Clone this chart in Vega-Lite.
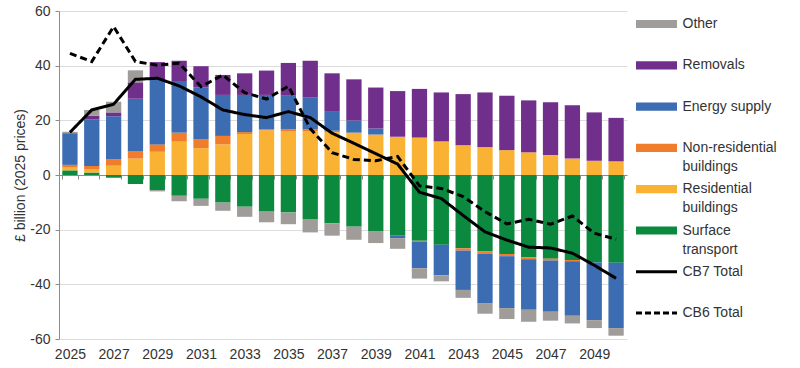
{
  "$schema": "https://vega.github.io/schema/vega-lite/v6.json",
  "width": 568,
  "height": 328,
  "autosize": {"type": "none"},
  "padding": {"left": 59, "top": 11, "right": 173, "bottom": 29},
  "background": "white",
  "config": {"view": {"stroke": null}, "font": "Liberation Sans"},
  "datasets": {
    "seriesInfo": [
      {"series": "Surface transport", "stackOrder": 1},
      {"series": "Residential buildings", "stackOrder": 2},
      {"series": "Non-residential buildings", "stackOrder": 3},
      {"series": "Energy supply", "stackOrder": 4},
      {"series": "Removals", "stackOrder": 5},
      {"series": "Other", "stackOrder": 6}
    ],
    "main": [
    {"year": 2025, "series": "Surface transport", "value": 1.7},
    {"year": 2026, "series": "Surface transport", "value": 0.9},
    {"year": 2027, "series": "Surface transport", "value": -1.0},
    {"year": 2028, "series": "Surface transport", "value": -3.3},
    {"year": 2029, "series": "Surface transport", "value": -5.5},
    {"year": 2030, "series": "Surface transport", "value": -7.6},
    {"year": 2031, "series": "Surface transport", "value": -8.7},
    {"year": 2032, "series": "Surface transport", "value": -10.1},
    {"year": 2033, "series": "Surface transport", "value": -11.6},
    {"year": 2034, "series": "Surface transport", "value": -13.4},
    {"year": 2035, "series": "Surface transport", "value": -13.7},
    {"year": 2036, "series": "Surface transport", "value": -16.1},
    {"year": 2037, "series": "Surface transport", "value": -17.7},
    {"year": 2038, "series": "Surface transport", "value": -18.9},
    {"year": 2039, "series": "Surface transport", "value": -20.5},
    {"year": 2040, "series": "Surface transport", "value": -22.1},
    {"year": 2041, "series": "Surface transport", "value": -24.1},
    {"year": 2042, "series": "Surface transport", "value": -25.5},
    {"year": 2043, "series": "Surface transport", "value": -26.8},
    {"year": 2044, "series": "Surface transport", "value": -28.0},
    {"year": 2045, "series": "Surface transport", "value": -28.9},
    {"year": 2046, "series": "Surface transport", "value": -30.1},
    {"year": 2047, "series": "Surface transport", "value": -30.6},
    {"year": 2048, "series": "Surface transport", "value": -31.1},
    {"year": 2049, "series": "Surface transport", "value": -32.0},
    {"year": 2050, "series": "Surface transport", "value": -32.1},

    {"year": 2025, "series": "Residential buildings", "value": 1.0},
    {"year": 2026, "series": "Residential buildings", "value": 1.3},
    {"year": 2027, "series": "Residential buildings", "value": 3.4},
    {"year": 2028, "series": "Residential buildings", "value": 6.0},
    {"year": 2029, "series": "Residential buildings", "value": 8.5},
    {"year": 2030, "series": "Residential buildings", "value": 12.2},
    {"year": 2031, "series": "Residential buildings", "value": 9.8},
    {"year": 2032, "series": "Residential buildings", "value": 11.2},
    {"year": 2033, "series": "Residential buildings", "value": 15.0},
    {"year": 2034, "series": "Residential buildings", "value": 16.3},
    {"year": 2035, "series": "Residential buildings", "value": 16.1},
    {"year": 2036, "series": "Residential buildings", "value": 16.1},
    {"year": 2037, "series": "Residential buildings", "value": 15.7},
    {"year": 2038, "series": "Residential buildings", "value": 15.5},
    {"year": 2039, "series": "Residential buildings", "value": 14.8},
    {"year": 2040, "series": "Residential buildings", "value": 14.0},
    {"year": 2041, "series": "Residential buildings", "value": 13.7},
    {"year": 2042, "series": "Residential buildings", "value": 12.3},
    {"year": 2043, "series": "Residential buildings", "value": 10.9},
    {"year": 2044, "series": "Residential buildings", "value": 10.2},
    {"year": 2045, "series": "Residential buildings", "value": 9.1},
    {"year": 2046, "series": "Residential buildings", "value": 8.3},
    {"year": 2047, "series": "Residential buildings", "value": 7.3},
    {"year": 2048, "series": "Residential buildings", "value": 6.0},
    {"year": 2049, "series": "Residential buildings", "value": 5.2},
    {"year": 2050, "series": "Residential buildings", "value": 5.0},

    {"year": 2025, "series": "Non-residential buildings", "value": 1.0},
    {"year": 2026, "series": "Non-residential buildings", "value": 1.1},
    {"year": 2027, "series": "Non-residential buildings", "value": 2.3},
    {"year": 2028, "series": "Non-residential buildings", "value": 2.6},
    {"year": 2029, "series": "Non-residential buildings", "value": 2.7},
    {"year": 2030, "series": "Non-residential buildings", "value": 3.3},
    {"year": 2031, "series": "Non-residential buildings", "value": 3.2},
    {"year": 2032, "series": "Non-residential buildings", "value": 3.1},
    {"year": 2033, "series": "Non-residential buildings", "value": 0.7},
    {"year": 2034, "series": "Non-residential buildings", "value": 0.5},
    {"year": 2035, "series": "Non-residential buildings", "value": 0.6},
    {"year": 2036, "series": "Non-residential buildings", "value": 0.7},
    {"year": 2037, "series": "Non-residential buildings", "value": 0.5},
    {"year": 2041, "series": "Non-residential buildings", "value": -0.2},
    {"year": 2043, "series": "Non-residential buildings", "value": -0.85},
    {"year": 2044, "series": "Non-residential buildings", "value": -0.85},
    {"year": 2045, "series": "Non-residential buildings", "value": -0.8},
    {"year": 2046, "series": "Non-residential buildings", "value": -0.7},
    {"year": 2047, "series": "Non-residential buildings", "value": -0.7},
    {"year": 2048, "series": "Non-residential buildings", "value": -0.5},

    {"year": 2025, "series": "Energy supply", "value": 11.6},
    {"year": 2026, "series": "Energy supply", "value": 17.1},
    {"year": 2027, "series": "Energy supply", "value": 15.8},
    {"year": 2028, "series": "Energy supply", "value": 19.3},
    {"year": 2029, "series": "Energy supply", "value": 23.9},
    {"year": 2030, "series": "Energy supply", "value": 18.9},
    {"year": 2031, "series": "Energy supply", "value": 19.1},
    {"year": 2032, "series": "Energy supply", "value": 15.0},
    {"year": 2033, "series": "Energy supply", "value": 13.6},
    {"year": 2034, "series": "Energy supply", "value": 12.5},
    {"year": 2035, "series": "Energy supply", "value": 12.3},
    {"year": 2036, "series": "Energy supply", "value": 11.5},
    {"year": 2037, "series": "Energy supply", "value": 7.2},
    {"year": 2038, "series": "Energy supply", "value": 4.4},
    {"year": 2039, "series": "Energy supply", "value": 2.2},
    {"year": 2040, "series": "Energy supply", "value": -1.0},
    {"year": 2041, "series": "Energy supply", "value": -9.8},
    {"year": 2042, "series": "Energy supply", "value": -11.2},
    {"year": 2043, "series": "Energy supply", "value": -14.4},
    {"year": 2044, "series": "Energy supply", "value": -18.0},
    {"year": 2045, "series": "Energy supply", "value": -19.0},
    {"year": 2046, "series": "Energy supply", "value": -18.5},
    {"year": 2047, "series": "Energy supply", "value": -18.7},
    {"year": 2048, "series": "Energy supply", "value": -19.9},
    {"year": 2049, "series": "Energy supply", "value": -21.1},
    {"year": 2050, "series": "Energy supply", "value": -23.9},

    {"year": 2026, "series": "Removals", "value": 1.3},
    {"year": 2027, "series": "Removals", "value": 1.4},
    {"year": 2028, "series": "Removals", "value": 6.0},
    {"year": 2029, "series": "Removals", "value": 6.2},
    {"year": 2030, "series": "Removals", "value": 7.4},
    {"year": 2031, "series": "Removals", "value": 7.7},
    {"year": 2032, "series": "Removals", "value": 7.3},
    {"year": 2033, "series": "Removals", "value": 7.9},
    {"year": 2034, "series": "Removals", "value": 8.9},
    {"year": 2035, "series": "Removals", "value": 12.0},
    {"year": 2036, "series": "Removals", "value": 13.5},
    {"year": 2037, "series": "Removals", "value": 13.8},
    {"year": 2038, "series": "Removals", "value": 15.1},
    {"year": 2039, "series": "Removals", "value": 15.0},
    {"year": 2040, "series": "Removals", "value": 16.7},
    {"year": 2041, "series": "Removals", "value": 17.8},
    {"year": 2042, "series": "Removals", "value": 17.9},
    {"year": 2043, "series": "Removals", "value": 18.7},
    {"year": 2044, "series": "Removals", "value": 20.0},
    {"year": 2045, "series": "Removals", "value": 19.9},
    {"year": 2046, "series": "Removals", "value": 19.0},
    {"year": 2047, "series": "Removals", "value": 19.3},
    {"year": 2048, "series": "Removals", "value": 19.5},
    {"year": 2049, "series": "Removals", "value": 17.7},
    {"year": 2050, "series": "Removals", "value": 15.9},

    {"year": 2025, "series": "Other", "value": 0.5},
    {"year": 2026, "series": "Other", "value": 2.1},
    {"year": 2027, "series": "Other", "value": 3.9},
    {"year": 2028, "series": "Other", "value": 4.4},
    {"year": 2029, "series": "Other", "value": -0.5},
    {"year": 2030, "series": "Other", "value": -2.0},
    {"year": 2031, "series": "Other", "value": -2.6},
    {"year": 2032, "series": "Other", "value": -3.0},
    {"year": 2033, "series": "Other", "value": -3.7},
    {"year": 2034, "series": "Other", "value": -3.9},
    {"year": 2035, "series": "Other", "value": -4.3},
    {"year": 2036, "series": "Other", "value": -4.9},
    {"year": 2037, "series": "Other", "value": -4.5},
    {"year": 2038, "series": "Other", "value": -4.8},
    {"year": 2039, "series": "Other", "value": -4.4},
    {"year": 2040, "series": "Other", "value": -3.9},
    {"year": 2041, "series": "Other", "value": -3.8},
    {"year": 2042, "series": "Other", "value": -2.2},
    {"year": 2043, "series": "Other", "value": -2.9},
    {"year": 2044, "series": "Other", "value": -3.9},
    {"year": 2045, "series": "Other", "value": -4.0},
    {"year": 2046, "series": "Other", "value": -4.4},
    {"year": 2047, "series": "Other", "value": -3.3},
    {"year": 2048, "series": "Other", "value": -2.8},
    {"year": 2049, "series": "Other", "value": -2.9},
    {"year": 2050, "series": "Other", "value": -2.8},

    {"year": 2025, "series": "CB7 Total", "value": 15.6},
    {"year": 2026, "series": "CB7 Total", "value": 23.8},
    {"year": 2027, "series": "CB7 Total", "value": 25.9},
    {"year": 2028, "series": "CB7 Total", "value": 35.0},
    {"year": 2029, "series": "CB7 Total", "value": 35.4},
    {"year": 2030, "series": "CB7 Total", "value": 32.6},
    {"year": 2031, "series": "CB7 Total", "value": 28.6},
    {"year": 2032, "series": "CB7 Total", "value": 23.8},
    {"year": 2033, "series": "CB7 Total", "value": 22.1},
    {"year": 2034, "series": "CB7 Total", "value": 21.0},
    {"year": 2035, "series": "CB7 Total", "value": 23.2},
    {"year": 2036, "series": "CB7 Total", "value": 21.0},
    {"year": 2037, "series": "CB7 Total", "value": 15.3},
    {"year": 2038, "series": "CB7 Total", "value": 11.6},
    {"year": 2039, "series": "CB7 Total", "value": 7.8},
    {"year": 2040, "series": "CB7 Total", "value": 4.0},
    {"year": 2041, "series": "CB7 Total", "value": -6.3},
    {"year": 2042, "series": "CB7 Total", "value": -8.6},
    {"year": 2043, "series": "CB7 Total", "value": -14.8},
    {"year": 2044, "series": "CB7 Total", "value": -20.8},
    {"year": 2045, "series": "CB7 Total", "value": -23.8},
    {"year": 2046, "series": "CB7 Total", "value": -26.4},
    {"year": 2047, "series": "CB7 Total", "value": -26.7},
    {"year": 2048, "series": "CB7 Total", "value": -28.6},
    {"year": 2049, "series": "CB7 Total", "value": -33.0},
    {"year": 2050, "series": "CB7 Total", "value": -37.8},

    {"year": 2025, "series": "CB6 Total", "value": 44.5},
    {"year": 2026, "series": "CB6 Total", "value": 41.5},
    {"year": 2027, "series": "CB6 Total", "value": 54.3},
    {"year": 2028, "series": "CB6 Total", "value": 41.5},
    {"year": 2029, "series": "CB6 Total", "value": 40.2},
    {"year": 2030, "series": "CB6 Total", "value": 40.9},
    {"year": 2031, "series": "CB6 Total", "value": 32.3},
    {"year": 2032, "series": "CB6 Total", "value": 36.6},
    {"year": 2033, "series": "CB6 Total", "value": 30.1},
    {"year": 2034, "series": "CB6 Total", "value": 27.8},
    {"year": 2035, "series": "CB6 Total", "value": 32.5},
    {"year": 2036, "series": "CB6 Total", "value": 17.0},
    {"year": 2037, "series": "CB6 Total", "value": 8.2},
    {"year": 2038, "series": "CB6 Total", "value": 5.7},
    {"year": 2039, "series": "CB6 Total", "value": 5.2},
    {"year": 2040, "series": "CB6 Total", "value": 6.8},
    {"year": 2041, "series": "CB6 Total", "value": -4.0},
    {"year": 2042, "series": "CB6 Total", "value": -4.9},
    {"year": 2043, "series": "CB6 Total", "value": -7.9},
    {"year": 2044, "series": "CB6 Total", "value": -13.4},
    {"year": 2045, "series": "CB6 Total", "value": -17.9},
    {"year": 2046, "series": "CB6 Total", "value": -16.2},
    {"year": 2047, "series": "CB6 Total", "value": -18.0},
    {"year": 2048, "series": "CB6 Total", "value": -15.0},
    {"year": 2049, "series": "CB6 Total", "value": -21.3},
    {"year": 2050, "series": "CB6 Total", "value": -23.5}
  ]},
  "data": {"name": "main"},
  "encoding": {
    "x": {
      "field": "year",
      "type": "ordinal",
      "scale": {"paddingInner": 0.3, "paddingOuter": 0.15},
      "axis": {
        "title": null,
        "orient": "bottom",
        "offset": -164,
        "labelPadding": 168,
        "labelExpr": "datum.value % 2 == 1 ? datum.label : ''",
        "labelAngle": 0,
        "labelFontSize": 14,
        "labelColor": "#333333",
        "tickBand": "extent",
        "tickSize": 4,
        "tickColor": "#8c8c8c",
        "domainColor": "#8c8c8c",
        "grid": false
      }
    }
  },
  "layer": [
    {
      "transform": [
        {"filter": {"field": "series", "oneOf": ["Surface transport", "Residential buildings", "Non-residential buildings", "Energy supply", "Removals", "Other"]}},
        {"lookup": "series", "from": {"data": {"name": "seriesInfo"}, "key": "series", "fields": ["stackOrder"]}}
      ],
      "mark": {"type": "bar"},
      "encoding": {
        "y": {
          "field": "value",
          "type": "quantitative",
          "stack": "zero",
          "scale": {"domain": [-60, 60]},
          "axis": {
            "values": [-60, -40, -20, 0, 20, 40, 60],
            "labelExpr": "toString(datum.value)",
            "title": "£ billion (2025 prices)",
            "titleFontSize": 14,
            "titleFontWeight": "normal",
            "titleColor": "#333333",
            "titlePadding": 2,
            "labelFontSize": 14,
            "labelColor": "#333333",
            "labelPadding": 5,
            "gridColor": "#dcdcdc",
            "domainColor": "#8c8c8c",
            "tickColor": "#8c8c8c",
            "tickSize": 4
          }
        },
        "order": {"field": "stackOrder", "type": "quantitative"},
        "color": {
          "field": "series",
          "type": "nominal",
          "scale": {
            "domain": ["Other", "Removals", "Energy supply", "Non-residential buildings", "Residential buildings", "Surface transport", "CB7 Total", "CB6 Total"],
            "range": ["#a09c99", "#702f8a", "#3c6cb2", "#ef7d2c", "#f9b234", "#0b8a3f", "#000000", "#000000"]
          },
          "legend": {
            "title": null,
            "orient": "none",
            "legendX": 577,
            "legendY": 6,
            "padding": 0,
            "rowPadding": 8.3,
            "symbolType": "M-1,-0.2H1V0.2H-1Z",
            "symbolSize": 1681,
            "symbolOffset": 13.5,
            "symbolStrokeWidth": 0,
            "labelFontSize": 14,
            "labelColor": "#333333",
            "labelOffset": 19,
            "labelLimit": 200,
            "labelExpr": "datum.label == 'Non-residential buildings' ? ['Non-residential', 'buildings'] : datum.label == 'Residential buildings' ? ['Residential', 'buildings'] : datum.label == 'Surface transport' ? ['Surface', 'transport'] : [datum.label, ' ']",
            "encode": {
              "symbols": {
                "update": {
                  "shape": {"signal": "datum.value == 'CB7 Total' || datum.value == 'CB6 Total' ? 'M-1,0H1' : 'M-1,-0.2H1V0.2H-1Z'"},
                  "stroke": {"signal": "datum.value == 'CB7 Total' || datum.value == 'CB6 Total' ? '#000000' : 'transparent'"},
                  "strokeWidth": {"signal": "datum.value == 'CB7 Total' || datum.value == 'CB6 Total' ? 3 : 0"},
                  "strokeDash": {"signal": "datum.value == 'CB6 Total' ? [6, 3] : [1, 0]"}
                }
              },
              "labels": {
                "update": {
                  "lineHeight": {"value": 19}
                }
              }
            }
          }
        }
      }
    },
    {
      "transform": [{"filter": {"field": "series", "oneOf": ["CB7 Total", "CB6 Total"]}}],
      "mark": {"type": "line", "strokeWidth": 3},
      "encoding": {
        "y": {"field": "value", "type": "quantitative", "stack": null, "scale": {"domain": [-60, 60]}},
        "color": {
          "field": "series",
          "type": "nominal",
          "scale": {
            "domain": ["Other", "Removals", "Energy supply", "Non-residential buildings", "Residential buildings", "Surface transport", "CB7 Total", "CB6 Total"],
            "range": ["#a09c99", "#702f8a", "#3c6cb2", "#ef7d2c", "#f9b234", "#0b8a3f", "#000000", "#000000"]
          }
        },
        "strokeDash": {
          "field": "series",
          "type": "nominal",
          "scale": {"domain": ["CB7 Total", "CB6 Total"], "range": [[1, 0], [7, 4]]},
          "legend": null
        }
      }
    }
  ]
}
